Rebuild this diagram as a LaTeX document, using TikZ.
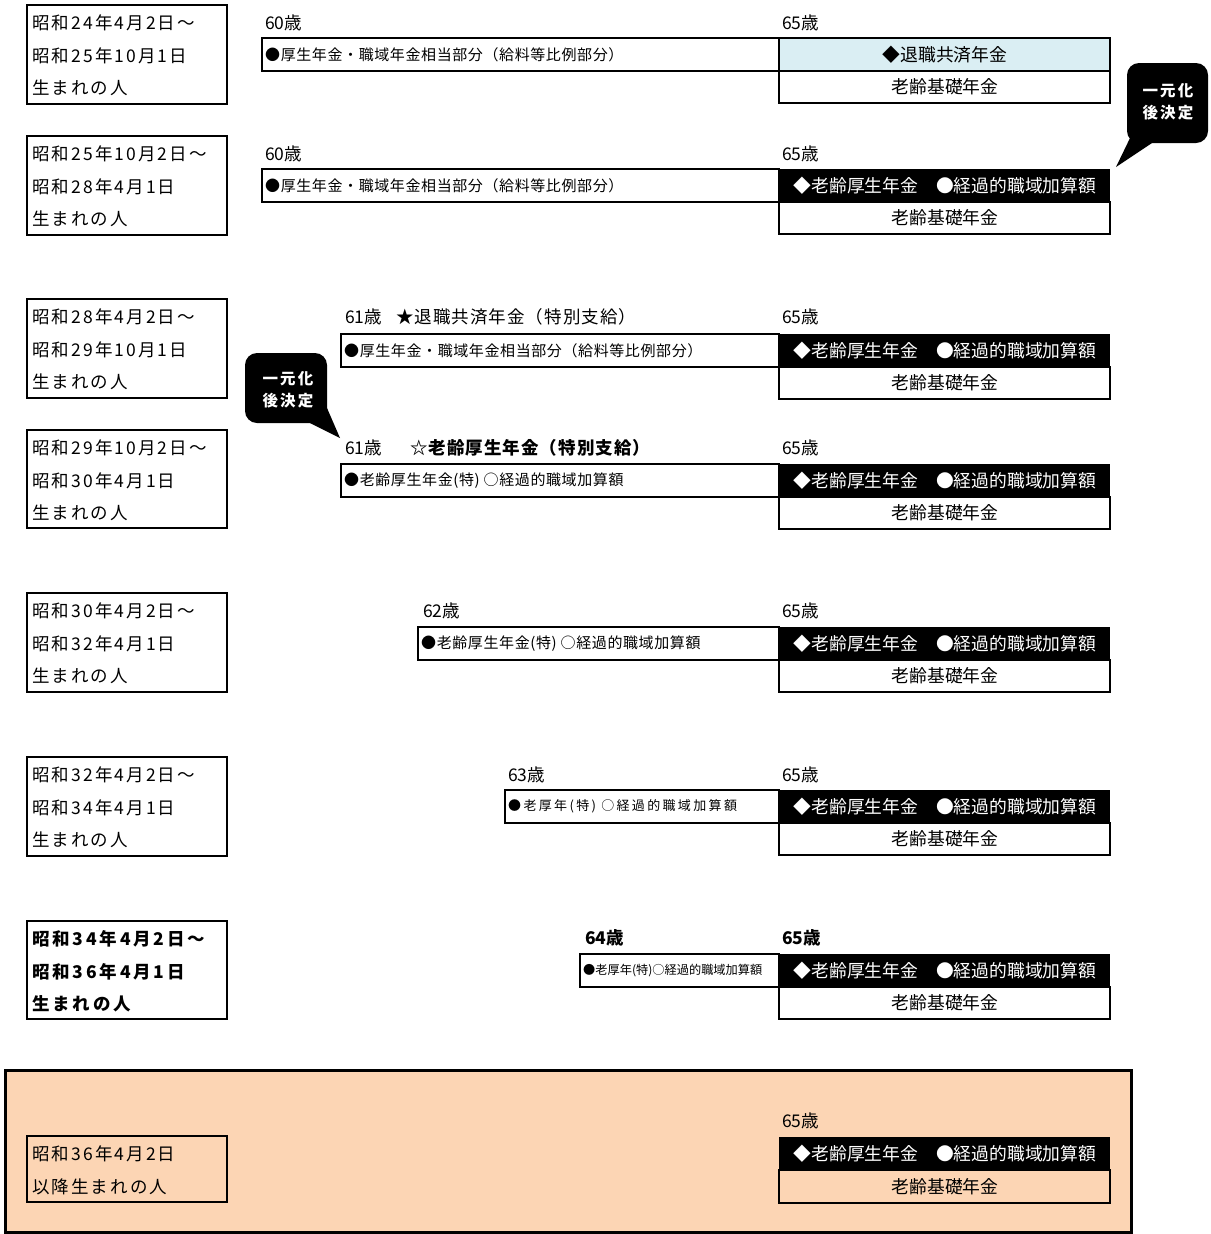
\documentclass[tikz,border=0pt]{standalone}
\usepackage{fontspec}
\setmainfont{Noto Sans CJK JP}
\newfontfamily\boxjp{Noto Sans CJK JP}[LetterSpace=12]
\newfontfamily\boxjpb{Noto Sans CJK JP}[LetterSpace=16]
\newfontfamily\midjp{Noto Sans CJK JP}[LetterSpace=6]
\newfontfamily\barjp{Noto Sans CJK JP}[LetterSpace=4]
\newfontfamily\spacedjp{Noto Sans CJK JP}[LetterSpace=18]
\newfontfamily\calljp{Noto Sans CJK JP}[LetterSpace=14]
\definecolor{lblue}{HTML}{DAEEF3}
\definecolor{peach}{HTML}{FCD5B4}
\newcommand\leftbox[6]{%
  \draw[thinb] (27,#2) rectangle (227,#3);
  \draw[thickb] (227,#2) -- (227,#3) -- (27,#3);
  \node[ltext] (#1a) at (32,#2+18) {#4};
  \node[ltext] (#1b) at (32,#2+51) {#5};
  \node[ltext] (#1c) at (32,#2+83) {#6};}
\newcommand\barrow[4]{%
  \draw[barb] (#3,#2) rectangle (779,#2+33);
  \node[btext] (#1t) at (#3+3,#2+16.5) {#4};}
\newcommand\rightbox[2]{%
  \fill[black] (779,#2) rectangle (1110,#2+33);
  \draw[barb] (779,#2+33) rectangle (1110,#2+65);
  \node[rtext,text=white] (#1k) at (945,#2+16.5) {◆老齢厚生年金　●経過的職域加算額};
  \node[rtext] (#1b) at (945,#2+49) {老齢基礎年金};}
\begin{document}
\begin{tikzpicture}[x=1pt,y=-1pt,
  thinb/.style={line width=1.3pt},
  thickb/.style={line width=2.8pt},
  barb/.style={line width=2.2pt},
  ltext/.style={anchor=west,inner sep=0pt,font=\boxjp\fontsize{17.5}{18}\selectfont},
  age/.style={anchor=west,inner sep=0pt,font=\fontsize{17.5}{18}\selectfont},
  btext/.style={anchor=west,inner sep=0pt,font=\barjp\fontsize{15}{16}\selectfont},
  rtext/.style={inner sep=0pt,font=\fontsize{17.8}{18}\selectfont},
  callout/.style={fill=black,rounded corners=12pt},
  ctext/.style={text=white,align=center,inner sep=0pt,font=\calljp\bfseries\fontsize{15.5}{22}\selectfont}]
\useasboundingbox (0,0) rectangle (1210,1234);
% row 8 background
\draw[fill=peach,line width=3pt] (5,1070) rectangle (1131,1232);
% row 1
\leftbox{r1}{5}{104}{昭和24年4月2日～}{昭和25年10月1日}{生まれの人}
\node[age] (r1a) at (265,23) {60歳};
\node[age] (r1b) at (782,23) {65歳};
\barrow{r1}{38}{262}{●厚生年金・職域年金相当部分（給料等比例部分）}
\draw[barb,fill=lblue] (779,38) rectangle (1110,71);
\draw[barb] (779,71) rectangle (1110,103);
\node[rtext] (r1k) at (945,54.5) {◆退職共済年金};
\node[rtext] (r1j) at (945,87) {老齢基礎年金};
% row 2
\leftbox{r2}{136}{235}{昭和25年10月2日～}{昭和28年4月1日}{生まれの人}
\node[age] (r2a) at (265,154) {60歳};
\node[age] (r2b) at (782,154) {65歳};
\barrow{r2}{169}{262}{●厚生年金・職域年金相当部分（給料等比例部分）}
\rightbox{r2}{169}
% row 3
\leftbox{r3}{299}{398}{昭和28年4月2日～}{昭和29年10月1日}{生まれの人}
\node[age] (r3a) at (345,317) {61歳\hspace{14pt}{\midjp ★退職共済年金（特別支給）}};
\node[age] (r3b) at (782,317) {65歳};
\barrow{r3}{334}{341}{●厚生年金・職域年金相当部分（給料等比例部分）}
\rightbox{r3}{334}
% row 4
\leftbox{r4}{430}{528}{昭和29年10月2日～}{昭和30年4月1日}{生まれの人}
\node[age] (r4a) at (345,448) {61歳\hspace{28pt}{\midjp\bfseries ☆老齢厚生年金（特別支給）}};
\node[age] (r4b) at (782,448) {65歳};
\barrow{r4}{464}{341}{●老齢厚生年金(特) ○経過的職域加算額}
\rightbox{r4}{464}
% row 5
\leftbox{r5}{593}{692}{昭和30年4月2日～}{昭和32年4月1日}{生まれの人}
\node[age] (r5a) at (423,611) {62歳};
\node[age] (r5b) at (782,611) {65歳};
\barrow{r5}{627}{418}{●老齢厚生年金(特) ○経過的職域加算額}
\rightbox{r5}{627}
% row 6
\leftbox{r6}{757}{856}{昭和32年4月2日～}{昭和34年4月1日}{生まれの人}
\node[age] (r6a) at (508,775) {63歳};
\node[age] (r6b) at (782,775) {65歳};
\draw[barb] (505,790) rectangle (779,823);
\node[anchor=west,inner sep=0pt,font=\spacedjp\fontsize{13}{14}\selectfont] (r6t) at (508,806.5) {●老厚年(特) ○経過的職域加算額};
\rightbox{r6}{790}
% row 7
\draw[thinb] (27,921) rectangle (227,1019);
\draw[thickb] (227,921) -- (227,1019) -- (27,1019);
\node[ltext,font=\boxjpb\bfseries\fontsize{17.5}{18}\selectfont] (r7a) at (32,939) {昭和34年4月2日～};
\node[ltext,font=\boxjpb\bfseries\fontsize{17.5}{18}\selectfont] (r7b) at (32,972) {昭和36年4月1日};
\node[ltext,font=\boxjpb\bfseries\fontsize{17.5}{18}\selectfont] (r7c) at (32,1004) {生まれの人};
\node[age,font=\bfseries\fontsize{17.5}{18}\selectfont] (r7d) at (585,938) {64歳};
\node[age,font=\bfseries\fontsize{17.5}{18}\selectfont] (r7e) at (782,938) {65歳};
\draw[barb] (580,954) rectangle (779,987);
\node[anchor=west,inner sep=0pt,font=\fontsize{12.2}{13}\selectfont] (r7t) at (583,970.5) {●老厚年(特)○経過的職域加算額};
\rightbox{r7}{954}
% row 8
\draw[thinb] (27,1136) rectangle (227,1202);
\draw[thickb] (227,1136) -- (227,1202) -- (27,1202);
\node[ltext] (r8a) at (32,1154) {昭和36年4月2日};
\node[ltext] (r8b) at (32,1187) {以降生まれの人};
\node[age] (r8c) at (782,1121) {65歳};
\fill[black] (779,1137) rectangle (1110,1170);
\draw[barb,fill=peach] (779,1170) rectangle (1110,1203);
\node[rtext,text=white] (r8k) at (945,1153.5) {◆老齢厚生年金　●経過的職域加算額};
\node[rtext] (r8j) at (945,1187) {老齢基礎年金};
% callouts
\fill[callout] (1127,63) rectangle (1208,143);
\fill[black] (1131,136) -- (1116,167) -- (1152,143) -- cycle;
\node[ctext] (c1) at (1168,102) {一元化\\後決定};
\fill[callout] (245,353) rectangle (327,423);
\fill[black] (310,423) -- (340,438) -- (327,408) -- cycle;
\node[ctext] (c2) at (288,390) {一元化\\後決定};
\end{tikzpicture}
\end{document}
